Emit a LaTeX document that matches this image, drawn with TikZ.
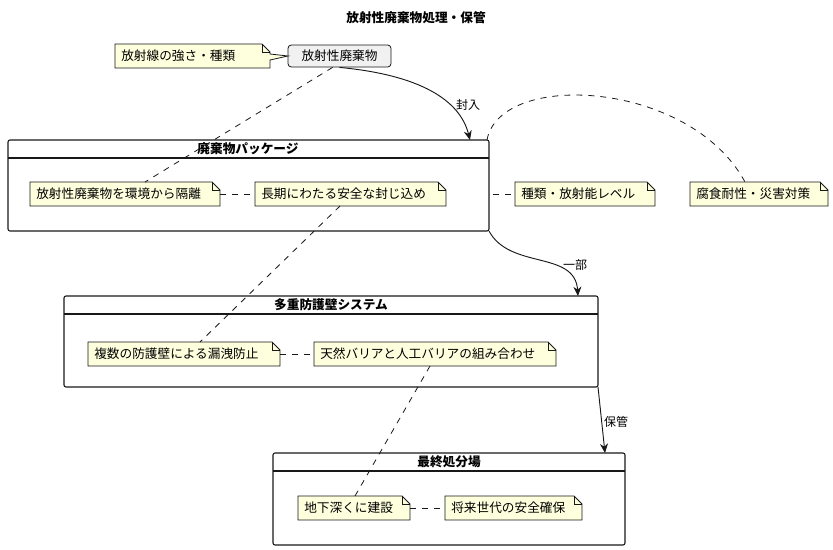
\documentclass[tikz,border=0pt]{standalone}
\usepackage{fontspec}
\setmainfont{Noto Sans CJK JP}
\usetikzlibrary{arrows.meta}
\definecolor{notefill}{HTML}{FEFFDD}
\definecolor{linec}{HTML}{181818}
\definecolor{entfill}{HTML}{F1F1F1}
\tikzset{
  notetext/.style={inner sep=0pt,font=\fontsize{9.5pt}{11pt}\selectfont,text=black},
  pkgtitle/.style={font=\bfseries\fontsize{9.5pt}{11pt}\selectfont},
  dashc/.style={draw=linec,dashed,dash pattern=on 4.5pt off 4.5pt,line width=0.6pt},
  arr/.style={draw=linec,line width=0.7pt,-{Stealth[length=7pt,width=6pt]}},
  pkg/.style={draw=linec,line width=0.8pt,rounded corners=1.5pt},
  lbl/.style={font=\fontsize{9pt}{11pt}\selectfont}
}
% \mynote{name}{x1}{y1}{x2}{y2}{text}
\newcommand{\mynote}[6]{%
  \filldraw[fill=notefill,draw=linec,line width=0.6pt]
    (#2,#3) -- (#4-8,#3) -- (#4,#3+8) -- (#4,#5) -- (#2,#5) -- cycle;
  \draw[draw=linec,line width=0.6pt] (#4-8,#3) -- (#4-8,#3+8) -- (#4,#3+8);
  \node[notetext,anchor=west] (#1) at (#2+6,{(#3+#5)/2}) {#6};
  \coordinate (#1-l) at (#2,{(#3+#5)/2});
  \coordinate (#1-r) at (#4,{(#3+#5)/2});
}
\begin{document}
\begin{tikzpicture}[x=0.75pt,y=-0.75pt]
\useasboundingbox (0,0) rectangle (833,550);
\node[pkgtitle] (title) at (416,18) {放射性廃棄物処理・保管};
% packages
\draw[pkg] (8,140) rectangle (489,231); \draw[linec,line width=0.8pt] (8,158)--(489,158);
\node[pkgtitle] (p1) at (248,149) {廃棄物パッケージ};
\coordinate (p1top) at (487,140); \coordinate (p1bot) at (489,231);
\draw[pkg] (64,296) rectangle (598,387); \draw[linec,line width=0.8pt] (64,314)--(598,314);
\node[pkgtitle] (p2) at (331,305) {多重防護壁システム};
\coordinate (p2top) at (578,296); \coordinate (p2bot) at (598,387);
\draw[pkg] (273,453) rectangle (625,545); \draw[linec,line width=0.8pt] (273,471)--(625,471);
\node[pkgtitle] (p3) at (449,462) {最終処分場};
\coordinate (p3top) at (605,453);
% entity
\node[draw=linec,fill=entfill,rounded corners=2.5pt,line width=0.6pt,minimum width=103*0.75pt,minimum height=22*0.75pt,inner sep=0pt,font=\fontsize{9.5pt}{11pt}\selectfont] (w) at (339.5,56) {放射性廃棄物};
% note with pointer
\filldraw[fill=notefill,draw=linec,line width=0.6pt]
  (115,44) -- (262,44) -- (270,52) -- (270,54) -- (288,56) -- (270,60) -- (270,68) -- (115,68) -- cycle;
\draw[linec,line width=0.6pt] (262,44) -- (262,52) -- (270,52);
\node[notetext,anchor=west] (n0) at (121,56) {放射線の強さ・種類};
% notes
\mynote{n1}{30}{182}{220}{206}{放射性廃棄物を環境から隔離}
\mynote{n2}{255}{182}{446}{206}{長期にわたる安全な封じ込め}
\mynote{n3}{515}{182}{655}{206}{種類・放射能レベル}
\mynote{n4}{690}{182}{828}{206}{腐食耐性・災害対策}
\mynote{n5}{88}{342}{280}{366}{複数の防護壁による漏洩防止}
\mynote{n6}{314}{342}{556}{366}{天然バリアと人工バリアの組み合わせ}
\mynote{n7}{298}{496}{410}{520}{地下深くに建設}
\mynote{n8}{445}{496}{582}{520}{将来世代の安全確保}
% dashed links
\draw[dashc] (w.south west) ++(45,0) -- (145,182);
\draw[dashc] (n1-r) -- (n2-l);
\draw[dashc] (493,194) -- (n3-l);
\draw[dashc] (p1top) .. controls (500,70) and (690,80) .. (745,182);
\draw[dashc] (340,206) -- (200,342);
\draw[dashc] (n5-r) -- (n6-l);
\draw[dashc] (430,366) -- (355,496);
\draw[dashc] (n7-r) -- (n8-l);
% arrows
\draw[arr] (w.south) .. controls (420,75) and (460,100) .. (470,140);
\node[lbl] (l1) at (468,105) {封入};
\draw[arr] (p1bot) .. controls (510,270) and (575,250) .. (p2top);
\node[lbl] (l2) at (575,265) {一部};
\draw[arr] (p2bot) -- (p3top);
\node[lbl] (l3) at (616,422) {保管};
\end{tikzpicture}
\end{document}
